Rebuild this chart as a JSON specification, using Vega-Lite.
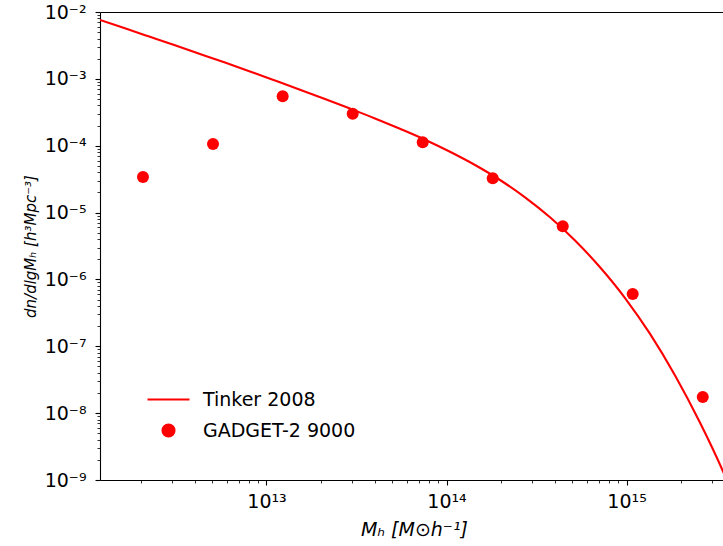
{
  "$schema": "https://vega.github.io/schema/vega-lite/v6.json",
  "width": 623,
  "height": 468,
  "autosize": {"type": "none"},
  "padding": {"left": 100, "top": 12, "right": 0, "bottom": 66},
  "background": "white",
  "config": {
    "view": {"stroke": null},
    "font": "DejaVu Sans",
    "axis": {
      "grid": false,
      "domainColor": "#000000",
      "domainWidth": 1.1,
      "tickColor": "#000000",
      "labelColor": "#000000",
      "titleColor": "#000000",
      "labelFont": "DejaVu Sans",
      "titleFont": "DejaVu Sans",
      "labelFontSize": 19,
      "labelOverlap": false,
      "labelFlush": false
    }
  },
  "datasets": {
    "curve": [
      {"M": 1.189e12, "n": 7.59e-3, "series": "Tinker 2008"},
      {"M": 1.636e12, "n": 5.70e-3, "series": "Tinker 2008"},
      {"M": 2.253e12, "n": 4.26e-3, "series": "Tinker 2008"},
      {"M": 3.102e12, "n": 3.18e-3, "series": "Tinker 2008"},
      {"M": 4.272e12, "n": 2.36e-3, "series": "Tinker 2008"},
      {"M": 5.880e12, "n": 1.75e-3, "series": "Tinker 2008"},
      {"M": 8.096e12, "n": 1.29e-3, "series": "Tinker 2008"},
      {"M": 1.115e13, "n": 9.44e-4, "series": "Tinker 2008"},
      {"M": 1.535e13, "n": 6.89e-4, "series": "Tinker 2008"},
      {"M": 2.113e13, "n": 4.99e-4, "series": "Tinker 2008"},
      {"M": 2.910e13, "n": 3.59e-4, "series": "Tinker 2008"},
      {"M": 4.006e13, "n": 2.56e-4, "series": "Tinker 2008"},
      {"M": 5.516e13, "n": 1.79e-4, "series": "Tinker 2008"},
      {"M": 7.596e13, "n": 1.23e-4, "series": "Tinker 2008"},
      {"M": 1.046e14, "n": 8.11e-5, "series": "Tinker 2008"},
      {"M": 1.440e14, "n": 5.14e-5, "series": "Tinker 2008"},
      {"M": 1.982e14, "n": 3.07e-5, "series": "Tinker 2008"},
      {"M": 2.730e14, "n": 1.69e-5, "series": "Tinker 2008"},
      {"M": 3.758e14, "n": 8.50e-6, "series": "Tinker 2008"},
      {"M": 5.175e14, "n": 3.82e-6, "series": "Tinker 2008"},
      {"M": 7.124e14, "n": 1.52e-6, "series": "Tinker 2008"},
      {"M": 9.810e14, "n": 5.27e-7, "series": "Tinker 2008"},
      {"M": 1.351e15, "n": 1.53e-7, "series": "Tinker 2008"},
      {"M": 1.860e15, "n": 3.66e-8, "series": "Tinker 2008"},
      {"M": 2.561e15, "n": 7.17e-9, "series": "Tinker 2008"},
      {"M": 3.525e15, "n": 1.15e-9, "series": "Tinker 2008"},
      {"M": 4.272e15, "n": 3.33e-10, "series": "Tinker 2008"}
    ],
    "sim": [
      {"M": 2.060e12, "n": 3.405e-5, "series": "GADGET-2 9000"},
      {"M": 5.045e12, "n": 1.061e-4, "series": "GADGET-2 9000"},
      {"M": 1.230e13, "n": 5.483e-4, "series": "GADGET-2 9000"},
      {"M": 3.012e13, "n": 3.012e-4, "series": "GADGET-2 9000"},
      {"M": 7.375e13, "n": 1.125e-4, "series": "GADGET-2 9000"},
      {"M": 1.806e14, "n": 3.256e-5, "series": "GADGET-2 9000"},
      {"M": 4.422e14, "n": 6.230e-6, "series": "GADGET-2 9000"},
      {"M": 1.082e15, "n": 6.053e-7, "series": "GADGET-2 9000"},
      {"M": 2.651e15, "n": 1.743e-8, "series": "GADGET-2 9000"}
    ]
  },
  "layer": [
    {
      "data": {"name": "curve"},
      "mark": {"type": "line", "strokeWidth": 2.1, "clip": true, "interpolate": "monotone"},
      "encoding": {
        "x": {
          "field": "M", "type": "quantitative",
          "scale": {"type": "log", "domain": [1.189e12, 3.434e15], "nice": false},
          "axis": {
            "orient": "bottom",
            "values": [2e12, 3e12, 4e12, 5e12, 6e12, 7e12, 8e12, 9e12, 1e13, 2e13, 3e13, 4e13, 5e13, 6e13, 7e13, 8e13, 9e13, 1e14, 2e14, 3e14, 4e14, 5e14, 6e14, 7e14, 8e14, 9e14, 1e15, 2e15, 3e15],
            "tickSize": {"condition": {"test": "abs(log(datum.value)/LN10 - round(log(datum.value)/LN10)) < 0.001", "value": 5}, "value": 3},
            "tickWidth": {"condition": {"test": "abs(log(datum.value)/LN10 - round(log(datum.value)/LN10)) < 0.001", "value": 1.1}, "value": 0.8},
            "labelPadding": 7,
            "labelExpr": "abs(log(datum.value)/LN10 - round(log(datum.value)/LN10)) < 0.001 ? '10' + replace(replace(replace(replace(replace(replace(replace(replace(replace(replace('' + round(log(datum.value)/LN10), '-', '⁻'), '1', '¹'), '2', '²'), '3', '³'), '4', '⁴'), '5', '⁵'), '6', '⁶'), '7', '⁷'), '8', '⁸'), '9', '⁹') : ''",
            "title": "Mₕ [M⊙h⁻¹]",
            "titleFontSize": 19,
            "titleFontWeight": "normal",
            "titleFontStyle": "italic",
            "titleAlign": "center",
            "titleBaseline": "alphabetic",
            "titleX": 314,
            "titleY": 55
          }
        },
        "y": {
          "field": "n", "type": "quantitative",
          "scale": {"type": "log", "domain": [1e-9, 1e-2], "nice": false},
          "axis": {
            "orient": "left",
            "values": [1e-9, 2e-9, 3e-9, 4e-9, 5e-9, 6e-9, 7e-9, 8e-9, 9e-9, 1e-8, 2e-8, 3e-8, 4e-8, 5e-8, 6e-8, 7e-8, 8e-8, 9e-8, 1e-7, 2e-7, 3e-7, 4e-7, 5e-7, 6e-7, 7e-7, 8e-7, 9e-7, 1e-6, 2e-6, 3e-6, 4e-6, 5e-6, 6e-6, 7e-6, 8e-6, 9e-6, 1e-5, 2e-5, 3e-5, 4e-5, 5e-5, 6e-5, 7e-5, 8e-5, 9e-5, 1e-4, 2e-4, 3e-4, 4e-4, 5e-4, 6e-4, 7e-4, 8e-4, 9e-4, 1e-3, 2e-3, 3e-3, 4e-3, 5e-3, 6e-3, 7e-3, 8e-3, 9e-3, 1e-2],
            "tickSize": {"condition": {"test": "abs(log(datum.value)/LN10 - round(log(datum.value)/LN10)) < 0.001", "value": 5}, "value": 3},
            "tickWidth": {"condition": {"test": "abs(log(datum.value)/LN10 - round(log(datum.value)/LN10)) < 0.001", "value": 1.1}, "value": 0.8},
            "labelPadding": 9,
            "labelExpr": "abs(log(datum.value)/LN10 - round(log(datum.value)/LN10)) < 0.001 ? '10' + replace(replace(replace(replace(replace(replace(replace(replace(replace(replace('' + round(log(datum.value)/LN10), '-', '⁻'), '1', '¹'), '2', '²'), '3', '³'), '4', '⁴'), '5', '⁵'), '6', '⁶'), '7', '⁷'), '8', '⁸'), '9', '⁹') : ''",
            "title": "dn/dlgMₕ  [h³Mpc⁻³]",
            "titleFontSize": 15,
            "titleFontWeight": "normal",
            "titleFontStyle": "italic",
            "titleAngle": -90,
            "titleAlign": "center",
            "titleBaseline": "alphabetic",
            "titleX": -65,
            "titleY": 234
          }
        },
        "color": {
          "field": "series", "type": "nominal",
          "scale": {"domain": ["Tinker 2008", "GADGET-2 9000"], "range": ["#ff0000", "#ff0000"]},
          "legend": {
            "title": null,
            "orient": "none",
            "legendX": 59,
            "legendY": 378,
            "symbolSize": 1764,
            "symbolStrokeWidth": 2.1,
            "labelFont": "DejaVu Sans",
            "labelFontSize": 19,
            "labelColor": "#000000",
            "labelOffset": 25,
            "rowPadding": 10,
            "encode": {
              "symbols": {
                "update": {
                  "shape": {"signal": "datum.value == 'Tinker 2008' ? 'stroke' : 'circle'"},
                  "size": {"signal": "datum.value == 'Tinker 2008' ? 1764 : 144"},
                  "fill": {"signal": "datum.value == 'Tinker 2008' ? 'transparent' : '#ff0000'"},
                  "stroke": {"signal": "datum.value == 'Tinker 2008' ? '#ff0000' : 'transparent'"},
                  "strokeWidth": {"value": 2.1},
                  "opacity": {"value": 1}
                }
              }
            }
          }
        }
      }
    },
    {
      "data": {"name": "sim"},
      "mark": {"type": "point", "filled": true, "size": 144, "opacity": 1, "clip": true},
      "encoding": {
        "x": {
          "field": "M", "type": "quantitative",
          "scale": {"type": "log", "domain": [1.189e12, 3.434e15], "nice": false},
          "axis": {"orient": "top", "ticks": false, "labels": false, "title": null, "domain": true}
        },
        "y": {
          "field": "n", "type": "quantitative",
          "scale": {"type": "log", "domain": [1e-9, 1e-2], "nice": false},
          "axis": null
        },
        "color": {"field": "series", "type": "nominal"}
      }
    }
  ],
  "resolve": {"axis": {"x": "independent", "y": "independent"}}
}
